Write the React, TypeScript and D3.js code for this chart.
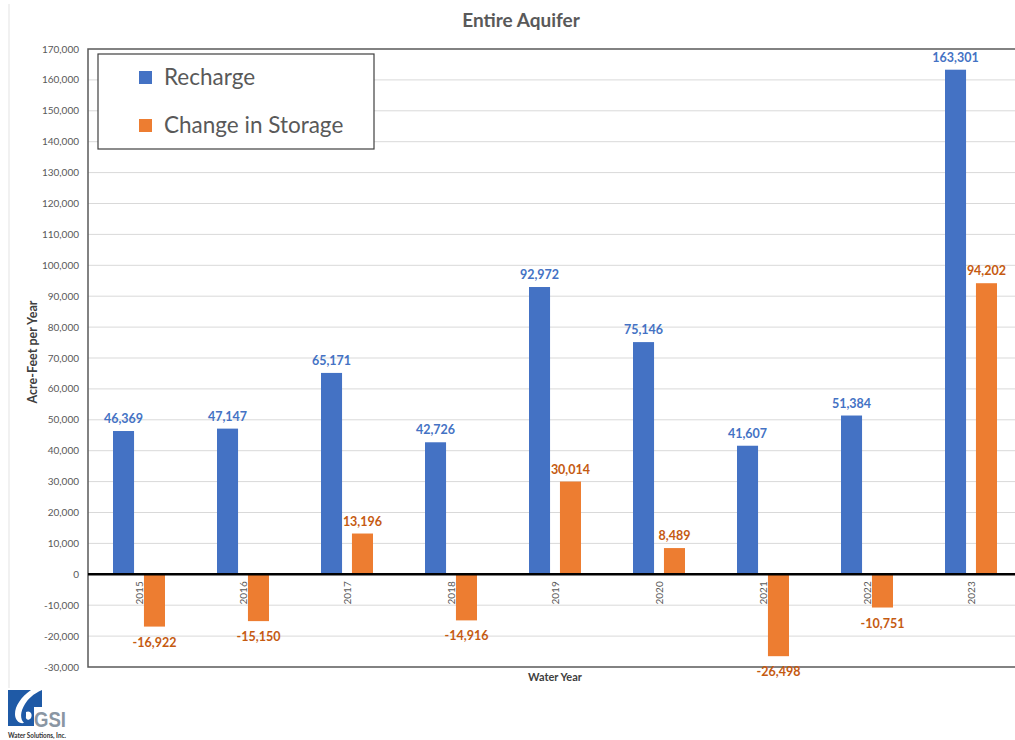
import React from "react";
import * as d3 from "d3";

const years = ["2015", "2016", "2017", "2018", "2019", "2020", "2021", "2022", "2023"];
const recharge = [46369, 47147, 65171, 42726, 92972, 75146, 41607, 51384, 163301];
const changeInStorage = [-16922, -15150, 13196, -14916, 30014, 8489, -26498, -10751, 94202];
const seriesNames = ["Recharge", "Change in Storage"];
const seriesColors = ["#4472C4", "#ED7D31"];
const labelColors = ["#4472C4", "#C55A11"];
const yTicks = d3.range(-30000, 170001, 10000);

const W = 1015;
const H = 740;
const FONT = "Lato, 'Noto Sans', sans-serif";

const fmtBase = d3.format(",");
const fmt = (v: number) => fmtBase(v).replace("\u2212", "-");

export default function App() {
  const left = 88, top = 49, bottom = 667;
  const right = left + 104 * years.length;
  const x = d3.scaleBand().domain(years).range([left, right]).padding(0);
  const x1 = d3.scaleBand().domain(seriesNames).range([-27, 25]).paddingInner(0.32);
  const y = d3.scaleLinear().domain([-30000, 170000]).range([bottom, top]);
  const series = [recharge, changeInStorage];

  return (
    <svg width={W} height={H} style={{ position: "absolute", left: 0, top: 0, background: "#fff" }} fontFamily={FONT}>
      <line x1={9} x2={9} y1={4} y2={688} stroke="#e3e3e3" strokeWidth={1} />
      <text x={521} y={27} textAnchor="middle" fontSize={19} fontWeight="bold" fill="#595959">Entire Aquifer</text>
      {/* gridlines */}
      {yTicks.map((t) => (
        <g key={t}>
          {t !== 0 && t !== 170000 && t !== -30000 && (
            <line x1={left} x2={W} y1={y(t)} y2={y(t)} stroke="#d9d9d9" strokeWidth={1} />
          )}
          <text x={79} y={y(t)} dy="0.35em" textAnchor="end" fontSize={10} fill="#595959">{fmt(t)}</text>
        </g>
      ))}
      {/* bars */}
      {series.map((vals, si) =>
        vals.map((v, i) => {
          const bx = (x(years[i]) as number) + x.bandwidth() / 2 + (x1(seriesNames[si]) as number);
          const bw = x1.bandwidth();
          const y0 = y(Math.max(0, v));
          const h = Math.abs(y(v) - y(0));
          return <rect key={si + "-" + i} x={bx} y={y0} width={bw} height={h} fill={seriesColors[si]} />;
        })
      )}
      {/* year labels */}
      {years.map((yr) => {
        const cx = (x(yr) as number) + x.bandwidth() / 2;
        return (
          <text key={yr} transform={`translate(${cx + 2.5},${y(0) + 7}) rotate(-90)`} textAnchor="end" fontSize={10} fill="#595959">{yr}</text>
        );
      })}
      {/* plot border */}
      <rect x={left} y={top} width={W - left + 20} height={bottom - top} fill="none" stroke="#595959" strokeWidth={1.5} />
      {/* zero line */}
      <line x1={left} x2={W} y1={y(0)} y2={y(0)} stroke="#000" strokeWidth={2.5} />
      {/* data labels */}
      {series.map((vals, si) =>
        vals.map((v, i) => {
          const cx = (x(years[i]) as number) + x.bandwidth() / 2 + (x1(seriesNames[si]) as number) + x1.bandwidth() / 2;
          const ly = v >= 0 ? y(v) - 8 : y(v) + 20;
          return (
            <text key={"l" + si + "-" + i} x={cx} y={ly} textAnchor="middle" fontSize={12.5} fontWeight="bold" fill={labelColors[si]}>{fmt(v)}</text>
          );
        })
      )}
      {/* axis titles */}
      <text transform={`translate(37,352) rotate(-90)`} textAnchor="middle" fontSize={12.5} fontWeight="bold" fill="#404040">Acre-Feet per Year</text>
      <text x={555} y={681} textAnchor="middle" fontSize={11} fontWeight="bold" fill="#404040">Water Year</text>
      {/* legend */}
      <rect x={98} y={54} width={276} height={95} fill="#fff" stroke="#404040" strokeWidth={1.2} />
      {seriesNames.map((s, i) => (
        <g key={s}>
          <rect x={139} y={71 + i * 48} width={13} height={13} fill={seriesColors[i]} />
          <text x={164} y={77.5 + i * 48} dy="0.35em" fontSize={22.5} fill="#595959">{s}</text>
        </g>
      ))}
      {/* logo */}
      <g>
        <rect x={8} y={690} width={34} height={36} fill="#1f5aa6" />
        <path d="M31,690 C21,697 15,706 15,714 C15,720 19,724 24,723 C20,719 20,712 25,704 C28,699 33,694 42,690 Z" fill="#fff" />
        <path d="M26,712 C30,710 33,714 31,718 C29,721 25,720 26,716 Z" fill="#fff" />
        <rect x={34} y={707} width={34} height={21} fill="#fff" />
        <text x={34} y={727} fontSize={22} fontWeight="bold" fill="#8a96a3" fontFamily="'Liberation Sans', sans-serif" textLength={32} lengthAdjust="spacingAndGlyphs">GSI</text>
        <text x={8} y={738} fontSize={6.5} fontWeight="bold" fill="#333" textLength={58} lengthAdjust="spacingAndGlyphs">Water Solutions, Inc.</text>
      </g>
    </svg>
  );
}
